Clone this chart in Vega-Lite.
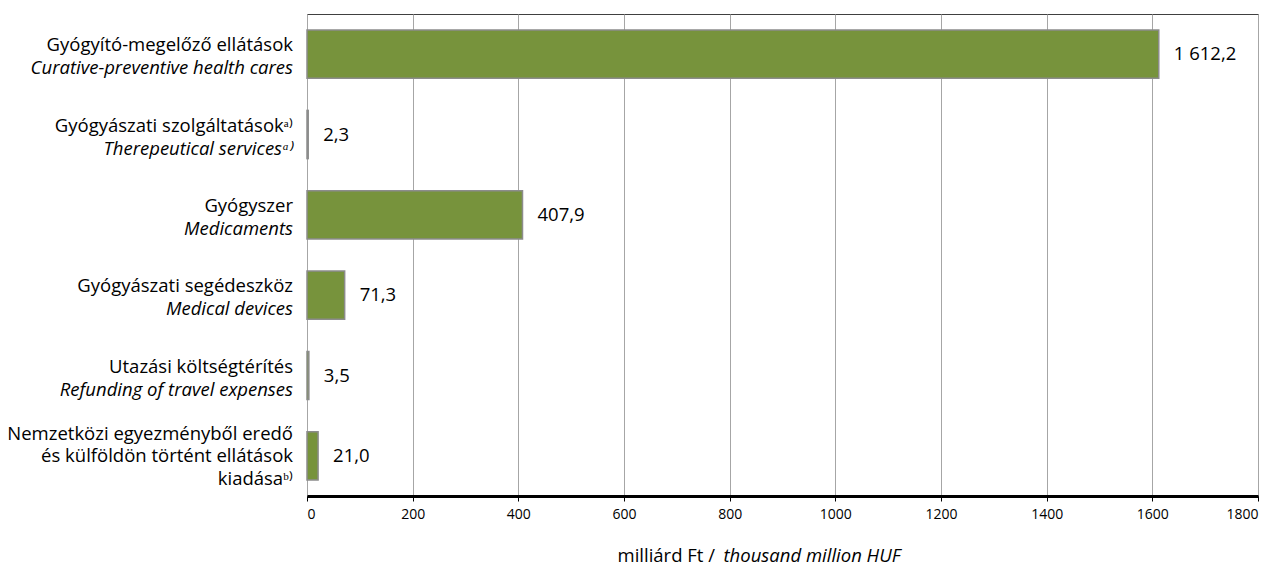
{
  "$schema": "https://vega.github.io/schema/vega-lite/v6.json",
  "autosize": "none",
  "padding": {"left": 307, "top": 14, "right": 19, "bottom": 70},
  "width": 951,
  "height": 482,
  "background": "white",
  "config": {
    "view": {"stroke": "#404040", "strokeWidth": 1},
    "font": "Open Sans"
  },
  "data": {
    "values": [
      {"cat": "c1", "value": 1612.2, "label": "1 612,2", "hu": "Gyógyító-megelőző ellátások", "en": "Curative-preventive health cares"},
      {"cat": "c2", "value": 2.3, "label": "2,3", "hu": "Gyógyászati szolgáltatásokᵃ⁾", "en": "Therepeutical servicesᵃ⁾"},
      {"cat": "c3", "value": 407.9, "label": "407,9", "hu": "Gyógyszer", "en": "Medicaments"},
      {"cat": "c4", "value": 71.3, "label": "71,3", "hu": "Gyógyászati segédeszköz", "en": "Medical devices"},
      {"cat": "c5", "value": 3.5, "label": "3,5", "hu": "Utazási költségtérítés", "en": "Refunding of travel expenses"},
      {"cat": "c6", "value": 21.0, "label": "21,0", "hu": "Nemzetközi egyezményből eredő\nés külföldön történt ellátások\nkiadásaᵇ⁾", "en": ""}
    ]
  },
  "encoding": {
    "y": {"field": "cat", "type": "nominal", "sort": null, "axis": null,
          "scale": {"paddingInner": 0.4, "paddingOuter": 0.2}}
  },
  "layer": [
    {
      "mark": {"type": "bar", "fill": "#77933c", "stroke": "#8c8c8c", "strokeWidth": 1.5},
      "encoding": {
        "x": {"field": "value", "type": "quantitative",
              "scale": {"domain": [0, 1800], "nice": false},
              "axis": {"orient": "bottom", "values": [0, 200, 400, 600, 800, 1000, 1200, 1400, 1600, 1800],
                       "format": "d",
                       "grid": true, "gridColor": "#a6a6a6", "gridWidth": 1,
                       "domainColor": "#000000", "domainWidth": 3,
                       "tickColor": "#000000", "tickSize": 5, "tickWidth": 1,
                       "labelFont": "Open Sans", "labelFontSize": 14, "labelColor": "#000000", "labelPadding": 6,
                       "title": "milliárd Ft / ", "titleFont": "Open Sans", "titleFontSize": 18.5, "titleFontWeight": "normal",
                       "titleColor": "#000000", "titleAlign": "left", "titleBaseline": "middle",
                       "titleX": 310, "titleY": 59}}
      }
    },
    {
      "mark": {"type": "text", "align": "left", "baseline": "middle", "dx": 15, "fontSize": 18.5, "font": "Open Sans", "color": "#000000"},
      "encoding": {
        "x": {"field": "value", "type": "quantitative",
              "axis": {"orient": "top", "labels": false, "ticks": false, "domain": false, "grid": false,
                       "title": "thousand million HUF", "titleFont": "Open Sans", "titleFontSize": 18.5, "titleFontWeight": "normal",
                       "titleFontStyle": "italic", "titleColor": "#000000", "titleAlign": "left", "titleBaseline": "middle",
                       "titleX": 416, "titleY": 541}},
        "text": {"field": "label"}
      }
    },
    {
      "transform": [{"filter": "datum.cat !== 'c6'"}],
      "mark": {"type": "text", "align": "right", "baseline": "middle", "dx": -14, "dy": -9, "fontSize": 18.5, "font": "Open Sans", "color": "#000000"},
      "encoding": {
        "x": {"datum": 0, "type": "quantitative", "axis": null},
        "text": {"field": "hu"}
      }
    },
    {
      "transform": [{"filter": "datum.cat !== 'c6'"}],
      "mark": {"type": "text", "align": "right", "baseline": "middle", "dx": -14, "dy": 14, "fontSize": 18.5, "font": "Open Sans", "fontStyle": "italic", "color": "#000000"},
      "encoding": {
        "x": {"datum": 0, "type": "quantitative", "axis": null},
        "text": {"field": "en"}
      }
    },
    {
      "transform": [{"filter": "datum.cat === 'c6'"}],
      "mark": {"type": "text", "align": "right", "baseline": "middle", "dx": -14, "dy": -22, "fontSize": 18.5, "font": "Open Sans", "color": "#000000", "lineBreak": "\n", "lineHeight": 22.5},
      "encoding": {
        "x": {"datum": 0, "type": "quantitative", "axis": null},
        "text": {"field": "hu"}
      }
    }
  ],
  "resolve": {"axis": {"x": "independent"}}
}
